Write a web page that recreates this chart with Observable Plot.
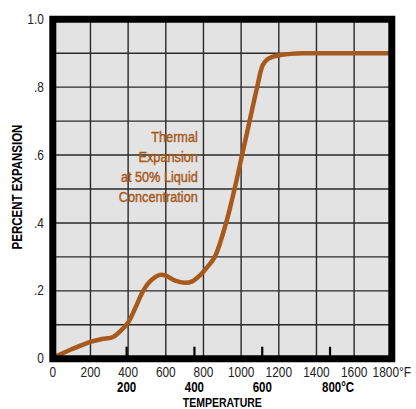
<!DOCTYPE html>
<html>
<head>
<meta charset="utf-8">
<script src="https://cdn.jsdelivr.net/npm/d3@7"></script>
<script src="https://cdn.jsdelivr.net/npm/@observablehq/plot@0.6"></script>
<style>
  html, body { margin: 0; padding: 0; background: #fff; }
  #chart svg { display: block; }
</style>
</head>
<body>
<div id="chart"></div>
<script>
// Temperature (°F) and percent expansion
const tempF = [0, 100, 200, 260, 320, 360, 400, 440, 480, 520, 570, 600, 650, 700, 740, 780, 820, 860, 920, 965, 1005, 1045, 1085, 1115, 1140, 1170, 1200, 1260, 1330, 1400, 1800];
const expansion = [0.003, 0.028, 0.05, 0.058, 0.064, 0.082, 0.107, 0.152, 0.2, 0.23, 0.247, 0.245, 0.23, 0.224, 0.228, 0.245, 0.27, 0.3, 0.4, 0.5, 0.6, 0.7, 0.8, 0.865, 0.882, 0.89, 0.894, 0.898, 0.9, 0.9, 0.9];

const xTicksF = [0, 200, 400, 600, 800, 1000, 1200, 1400, 1600, 1800];
const yTicks = [0, 0.2, 0.4, 0.6, 0.8, 1.0];
const yGrid = [0.1, 0.2, 0.3, 0.4, 0.5, 0.6, 0.7, 0.8, 0.9];
const xGrid = [200, 400, 600, 800, 1000, 1200, 1400, 1600];
const celsiusTicks = [200, 400, 600, 800];
const celsiusLabels = ["200", "400", "600", "800°C"];
const annotation = "Thermal\nExpansion\nat 50% Liquid\nConcentration";

const data = tempF.map((t, i) => ({t, v: expansion[i]}));
const cData = celsiusTicks.map((c, i) => ({f: c * 9 / 5 + 32, label: celsiusLabels[i]}));
const cMain = cData.slice(0, 3);
const cLast = cData.slice(3);

const FONT = "'Liberation Sans', Arial, sans-serif";
const BROWN = "#a8591c";
const SQUEEZE = 0.82; // condensed look (Helvetica Condensed in the reference)

const chart = Plot.plot({
  width: 416,
  height: 409,
  marginLeft: 52.3,
  marginRight: 24.7,
  marginTop: 18.75,
  marginBottom: 50.75,
  style: {fontFamily: FONT, background: "#fff"},
  x: {domain: [0, 1800]},
  y: {domain: [0, 1]},
  marks: [
    Plot.frame({fill: "#e3e3e3", stroke: null}),
    Plot.ruleX(xGrid, {stroke: "#2a2a2a", strokeWidth: 1.4}),
    Plot.ruleY(yGrid, {stroke: "#2a2a2a", strokeWidth: 1.4}),
    Plot.ruleX(cData, {x: "f", y1: 0, y2: 0.034, stroke: "#000", strokeWidth: 2.2}),
    Plot.line(data, {x: "t", y: "v", curve: "catmull-rom", stroke: BROWN, strokeWidth: 4.5, strokeLinecap: "round"}),
    Plot.text([annotation], {x: 770, y: 0.461, text: d => d, textAnchor: "end", lineAnchor: "bottom", lineHeight: 1.29, fontSize: 15.5, fill: BROWN, stroke: BROWN, strokeWidth: 0.45}),
    Plot.frame({stroke: "#000", strokeWidth: 7}),
    Plot.axisX(xTicksF, {tickSize: 0, tickPadding: 8, fontSize: 14.5, fill: "#222",
      tickFormat: d => d === 1800 ? "1800°F" : String(d), label: null}),
    Plot.axisY(yTicks, {tickSize: 0, tickPadding: 9, fontSize: 14.5, fill: "#222",
      tickFormat: d => d === 0 ? "0" : d === 1 ? "1.0" : d3.format(".1f")(d).replace(/^0/, ""), label: null}),
    Plot.text(cMain, {x: "f", y: 0, text: "label", dy: 33.3, fontSize: 14, fontWeight: "bold", fill: "#000", lineAnchor: "bottom"}),
    Plot.text(cLast, {x: "f", y: 0, text: "label", dy: 33.3, dx: 8, fontSize: 14, fontWeight: "bold", fill: "#000", lineAnchor: "bottom"}),
    Plot.text(["TEMPERATURE"], {frameAnchor: "bottom", text: d => d, textAnchor: "middle", dy: 48, fontSize: 12.8, fontWeight: "bold", fill: "#000", lineAnchor: "bottom"}),
    Plot.text(["PERCENT EXPANSION"], {frameAnchor: "left", text: d => d, textAnchor: "middle", dx: -35, dy: -2, rotate: -90, fontSize: 14, fontWeight: "bold", fill: "#000", lineAnchor: "middle"})
  ]
});

// Horizontally condense every text around its anchor point
chart.querySelectorAll("text").forEach(el => {
  const t = el.getAttribute("transform");
  if (t) {
    el.setAttribute("transform", t + ` scale(${SQUEEZE},1)`);
  } else {
    const x = +(el.getAttribute("x") || 0), y = +(el.getAttribute("y") || 0);
    el.removeAttribute("x"); el.removeAttribute("y");
    el.setAttribute("transform", `translate(${x},${y}) scale(${SQUEEZE},1)`);
  }
});
document.getElementById("chart").appendChild(chart);
</script>
</body>
</html>
